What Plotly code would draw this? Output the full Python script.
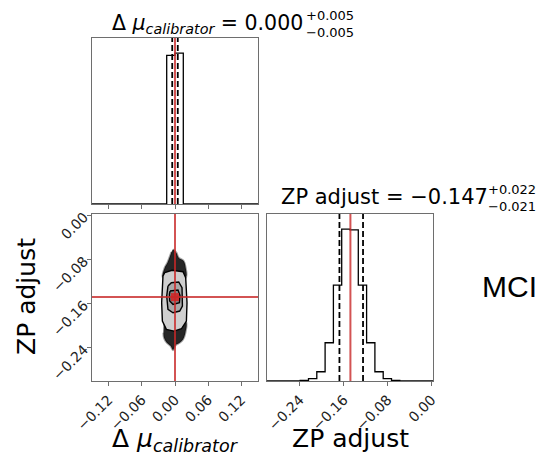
import plotly.graph_objects as go

W, H = 539, 455

# ---------------- data ----------------
calib_range = [-0.15, 0.15]
zp_range = [-0.300, 0.0025]
n_bins = 20

calib_hist = [0, 0, 0, 0, 0, 0, 0, 0, 0, 0.985, 1.0, 0, 0, 0, 0, 0, 0, 0, 0, 0]
zp_hist = [0, 0, 0, 0, 0.004, 0.015, 0.061, 0.252, 0.632, 1.0, 0.995,
           0.632, 0.252, 0.061, 0.015, 0.004, 0, 0, 0, 0]

calib_quantiles = [-0.005, 0.000, 0.005]
zp_quantiles = [-0.168, -0.147, -0.125]
truths = [0.0, -0.148]

calib_ticks = [-0.12, -0.06, 0.00, 0.06, 0.12]
calib_ticktext = ["\u22120.12", "\u22120.06", "0.00", "0.06", "0.12"]
zp_ticks = [-0.24, -0.16, -0.08, 0.00]
zp_ticktext = ["\u22120.24", "\u22120.16", "\u22120.08", "0.00"]

# 2D panel: sample clouds (outside contours) and contour outlines
cloud_top_x = [-0.0036, 0.0025, 0.0067, 0.0157, 0.0193, 0.0193, -0.0217, -0.0186, -0.0137, -0.0090, -0.0066]
cloud_top_y = [-0.0613, -0.0675, -0.0766, -0.0826, -0.0947, -0.1129, -0.1129, -0.0947, -0.0857, -0.0735, -0.0662]
cloud_bot_x = [-0.0204, 0.0193, 0.0188, 0.0145, 0.0085, 0.0007, -0.0036, -0.0078, -0.0156, -0.0199, -0.0210]
cloud_bot_y = [-0.1915, -0.1915, -0.2127, -0.2247, -0.2308, -0.2356, -0.2441, -0.2368, -0.2296, -0.2218, -0.2127]

outer_x = [-0.0186, -0.0054, 0.0145, 0.0193, 0.0217, 0.0206, 0.0116, -0.0018, -0.0156, -0.0228, -0.0241, -0.0217]
outer_y = [-0.1038, -0.0995, -0.1020, -0.1129, -0.1583, -0.1915, -0.2054, -0.2096, -0.2065, -0.1915, -0.1583, -0.1098]
middle_x = [-0.0127, -0.0066, 0.0067, 0.0127, 0.0134, 0.0085, -0.0036, -0.0127, -0.0150]
middle_y = [-0.1280, -0.1219, -0.1207, -0.1310, -0.1643, -0.1733, -0.1764, -0.1702, -0.1461]
inner_x = [-0.0090, 0.0054, 0.0090, 0.0080, -0.0036, -0.0096, -0.0101]
inner_y = [-0.1370, -0.1352, -0.1448, -0.1583, -0.1612, -0.1552, -0.1430]

# ---------------- helpers ----------------
def edges(rng, n):
    w = (rng[1] - rng[0]) / n
    return [rng[0] + i * w for i in range(n + 1)]

def px(x):
    return x / W

def py(y):
    return 1 - y / H

FONT = "DejaVu Sans"
RED = "rgba(200,40,40,0.8)"
FRAME = "#6e6e6e"

fig = go.Figure()

# top-left histogram
ce = edges(calib_range, n_bins)
fig.add_trace(go.Scatter(x=ce, y=calib_hist + [calib_hist[-1]], mode="lines",
                         line=dict(color="black", width=1.3, shape="hv"),
                         xaxis="x", yaxis="y", showlegend=False, hoverinfo="skip"))
# bottom-right histogram
ze = edges(zp_range, n_bins)
fig.add_trace(go.Scatter(x=ze, y=zp_hist + [zp_hist[-1]], mode="lines",
                         line=dict(color="black", width=1.3, shape="hv"),
                         xaxis="x3", yaxis="y3", showlegend=False, hoverinfo="skip"))

# 2D panel clouds
for cx, cy in [(cloud_top_x, cloud_top_y), (cloud_bot_x, cloud_bot_y)]:
    fig.add_trace(go.Scatter(x=cx, y=cy, mode="lines", fill="toself",
                             fillcolor="rgba(0,0,0,0.85)",
                             line=dict(color="rgba(0,0,0,0.35)", width=2, shape="spline"),
                             xaxis="x2", yaxis="y2", showlegend=False, hoverinfo="skip"))
# contours
for cx, cy, fc in [(outer_x, outer_y, "#cfcfcf"),
                   (middle_x, middle_y, "#a9a9a9"),
                   (inner_x, inner_y, "#858585")]:
    fig.add_trace(go.Scatter(x=cx + [cx[0]], y=cy + [cy[0]], mode="lines", fill="toself",
                             fillcolor=fc, line=dict(color="black", width=1.4),
                             xaxis="x2", yaxis="y2", showlegend=False, hoverinfo="skip"))

# quantile dashed lines & truth lines as shapes
shapes = []
for q in calib_quantiles[::2]:
    shapes.append(dict(type="line", xref="x", yref="y domain", x0=q, x1=q, y0=0, y1=1,
                       line=dict(color="black", width=1.8, dash="6px,3px")))
for q in zp_quantiles[::2]:
    shapes.append(dict(type="line", xref="x3", yref="y3 domain", x0=q, x1=q, y0=0, y1=1,
                       line=dict(color="black", width=1.8, dash="6px,3px")))
shapes.append(dict(type="line", xref="x", yref="y domain", x0=truths[0], x1=truths[0], y0=0, y1=1,
                   line=dict(color=RED, width=2)))
shapes.append(dict(type="line", xref="x3", yref="y3 domain", x0=truths[1], x1=truths[1], y0=0, y1=1,
                   line=dict(color=RED, width=2)))
shapes.append(dict(type="line", xref="x2", yref="y2 domain", x0=truths[0], x1=truths[0], y0=0, y1=1,
                   line=dict(color=RED, width=2)))
shapes.append(dict(type="line", xref="x2 domain", yref="y2", x0=0, x1=1, y0=truths[1], y1=truths[1],
                   line=dict(color=RED, width=2)))

# truth marker
fig.add_trace(go.Scatter(x=[truths[0]], y=[truths[1]], mode="markers",
                         marker=dict(symbol="square", size=8, color="#c83030"),
                         xaxis="x2", yaxis="y2", showlegend=False, hoverinfo="skip"))

ax_common = dict(showgrid=False, zeroline=False, showline=True, mirror=True,
                 linecolor=FRAME, linewidth=1.3, ticks="outside", ticklen=4,
                 tickcolor=FRAME, tickwidth=1, automargin=False,
                 tickfont=dict(family=FONT, size=14, color="#222"))

xd_left = [px(92), px(258)]
xd_right = [px(267), px(433)]
yd_top = [py(204), py(38)]
yd_bot = [py(381), py(214)]

fig.update_layout(
    width=W, height=H, margin=dict(l=0, r=0, t=0, b=0, autoexpand=False),
    paper_bgcolor="white", plot_bgcolor="white",
    xaxis=dict(ax_common, domain=xd_left, range=calib_range, anchor="y",
               tickvals=calib_ticks, showticklabels=False),
    yaxis=dict(ax_common, domain=yd_top, range=[0, 1.1 * max(calib_hist)], anchor="x",
               ticks="", showticklabels=False),
    xaxis2=dict(ax_common, domain=xd_left, range=calib_range, anchor="y2",
                tickvals=calib_ticks, ticktext=calib_ticktext, tickangle=-45),
    yaxis2=dict(ax_common, domain=yd_bot, range=zp_range, anchor="x2",
                tickvals=zp_ticks, ticktext=zp_ticktext, tickangle=-45),
    xaxis3=dict(ax_common, domain=xd_right, range=zp_range, anchor="y3",
                tickvals=zp_ticks, ticktext=zp_ticktext, tickangle=-45),
    yaxis3=dict(ax_common, domain=yd_bot, range=[0, 1.1 * max(zp_hist)], anchor="x3",
                ticks="", showticklabels=False),
    shapes=shapes,
    showlegend=False,
)

ann = []
# titles
ann.append(dict(text="\u0394 <i>\u03bc</i><sub><i>calibrator</i></sub> = 0.000",
                x=px(110), y=py(24), xanchor="left", yanchor="middle",
                font=dict(family=FONT, size=20.5, color="black")))
ann.append(dict(text="+0.005<br>\u22120.005", x=px(304), y=py(24), xanchor="left", yanchor="middle",
                align="left", font=dict(family=FONT, size=13, color="black")))
ann.append(dict(text="ZP adjust = \u22120.147",
                x=px(279), y=py(197), xanchor="left", yanchor="middle",
                font=dict(family=FONT, size=21, color="black")))
ann.append(dict(text="+0.022<br>\u22120.021", x=px(486), y=py(198), xanchor="left", yanchor="middle",
                align="left", font=dict(family=FONT, size=13, color="black")))
# axis labels
ann.append(dict(text="\u0394 <i>\u03bc</i><sub><i>calibrator</i></sub>",
                x=px(175), y=py(440), xanchor="center", yanchor="middle",
                font=dict(family=FONT, size=25, color="black")))
ann.append(dict(text="ZP adjust", x=px(350), y=py(438), xanchor="center", yanchor="middle",
                font=dict(family=FONT, size=25, color="black")))
ann.append(dict(text="ZP adjust", x=px(26), y=py(297), xanchor="center", yanchor="middle",
                textangle=-90, font=dict(family=FONT, size=25, color="black")))
# side text
ann.append(dict(text="MCI", x=px(480), y=py(286), xanchor="left", yanchor="middle",
                font=dict(family="Liberation Sans", size=30, color="black")))

for a in ann:
    a.update(xref="paper", yref="paper", showarrow=False)
fig.update_layout(annotations=ann)

fig.write_html("out.html")
